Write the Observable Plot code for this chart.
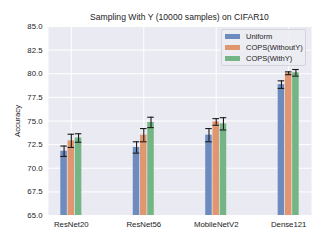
<!DOCTYPE html>
<html><head><meta charset="utf-8">
<script src="https://cdn.jsdelivr.net/npm/d3@7"></script>
<script src="https://cdn.jsdelivr.net/npm/@observablehq/plot@0.6"></script>
<style>
body{margin:0;background:#fff;font-family:"Liberation Sans",Arial,sans-serif;}
#wrap{position:relative;width:327px;height:245px;}
#title{position:absolute;left:48px;width:263px;top:12px;text-align:center;font-size:8.6px;color:#222;}
#legend{position:absolute;left:221px;top:29px;width:83px;height:35px;background:rgba(236,236,243,0.9);border:1px solid #d3d3db;border-radius:2px;font-size:7.5px;color:#222;font-weight:normal;}
.row{position:absolute;left:3px;height:8px;line-height:8px;white-space:nowrap;}
.sw{display:inline-block;width:15px;height:5px;vertical-align:middle;margin-right:6px;margin-top:-2px;}
</style></head>
<body><div id="wrap"><div id="title">Sampling With Y (10000 samples) on CIFAR10</div></div>
<script>
const categories = ["ResNet20","ResNet56","MobileNetV2","Dense121"];
const seriesNames = ["Uniform","COPS(WithoutY)","COPS(WithY)"];
const colors = ["#6d8bbf","#e0976f","#73b585"];
const uniformMean = [71.8, 72.2, 73.5, 78.85];
const uniformErr  = [0.55, 0.6, 0.7, 0.4];
const woYMean = [72.9, 73.5, 74.9, 80.05];
const woYErr  = [0.7, 0.7, 0.35, 0.15];
const wYMean = [73.2, 74.85, 74.7, 80.1];
const wYErr  = [0.45, 0.55, 0.65, 0.35];
const yTicks = [65, 67.5, 70, 72.5, 75, 77.5, 80, 82.5, 85];

const means = [uniformMean, woYMean, wYMean];
const errs = [uniformErr, woYErr, wYErr];
const bw = 0.09, step = 0.1;
const data = [];
seriesNames.forEach((s, si) => categories.forEach((c, ci) => {
  const pos = ci + (si - 1) * step;
  data.push({series: s, cat: ci, pos, x1: pos - bw/2, x2: pos + bw/2,
    mean: means[si][ci], lo: means[si][ci] - errs[si][ci], hi: means[si][ci] + errs[si][ci]});
}));

const plot = Plot.plot({
  width: 327, height: 245,
  marginLeft: 48, marginRight: 16, marginTop: 26, marginBottom: 30,
  style: {fontFamily: '"Liberation Sans", Arial, sans-serif', fontSize: "7.8px", color: "#222", background: "transparent"},
  x: {type: "linear", domain: [-0.315, 3.315]},
  y: {domain: [65, 85]},
  color: {domain: seriesNames, range: colors},
  marks: [
    Plot.frame({fill: "#eaeaf2", stroke: null}),
    Plot.gridY(yTicks, {stroke: "#fff", strokeOpacity: 1, strokeWidth: 1}),
    Plot.gridX([0,1,2,3], {stroke: "#fff", strokeOpacity: 1, strokeWidth: 1}),
    Plot.rectY(data, {x1: "x1", x2: "x2", y1: 65, y2: "mean", fill: "series"}),
    Plot.ruleX(data, {x: "pos", y1: "lo", y2: "hi", stroke: "#1a1a1a", strokeWidth: 1.1}),
    Plot.ruleY(data, {y: "lo", x1: d => d.pos - 0.045, x2: d => d.pos + 0.045, stroke: "#1a1a1a", strokeWidth: 1.1}),
    Plot.ruleY(data, {y: "hi", x1: d => d.pos - 0.045, x2: d => d.pos + 0.045, stroke: "#1a1a1a", strokeWidth: 1.1}),
    Plot.axisY(yTicks, {tickSize: 0, tickPadding: 6, tickFormat: d => d.toFixed(1), label: "Accuracy", labelAnchor: "center", labelArrow: "none", labelOffset: 34}),
    Plot.axisX([0,1,2,3], {tickSize: 0, tickPadding: 6, tickFormat: i => categories[i], label: null})
  ]
});
const wrap = document.getElementById("wrap");
wrap.appendChild(plot);
const lg = document.createElement("div");
lg.id = "legend";
seriesNames.forEach((s, i) => {
  const r = document.createElement("div");
  r.className = "row";
  r.style.top = (3 + i * 11) + "px";
  r.innerHTML = `<span class="sw" style="background:${colors[i]}"></span><span>${s}</span>`;
  lg.appendChild(r);
});
wrap.appendChild(lg);
</script></body></html>
